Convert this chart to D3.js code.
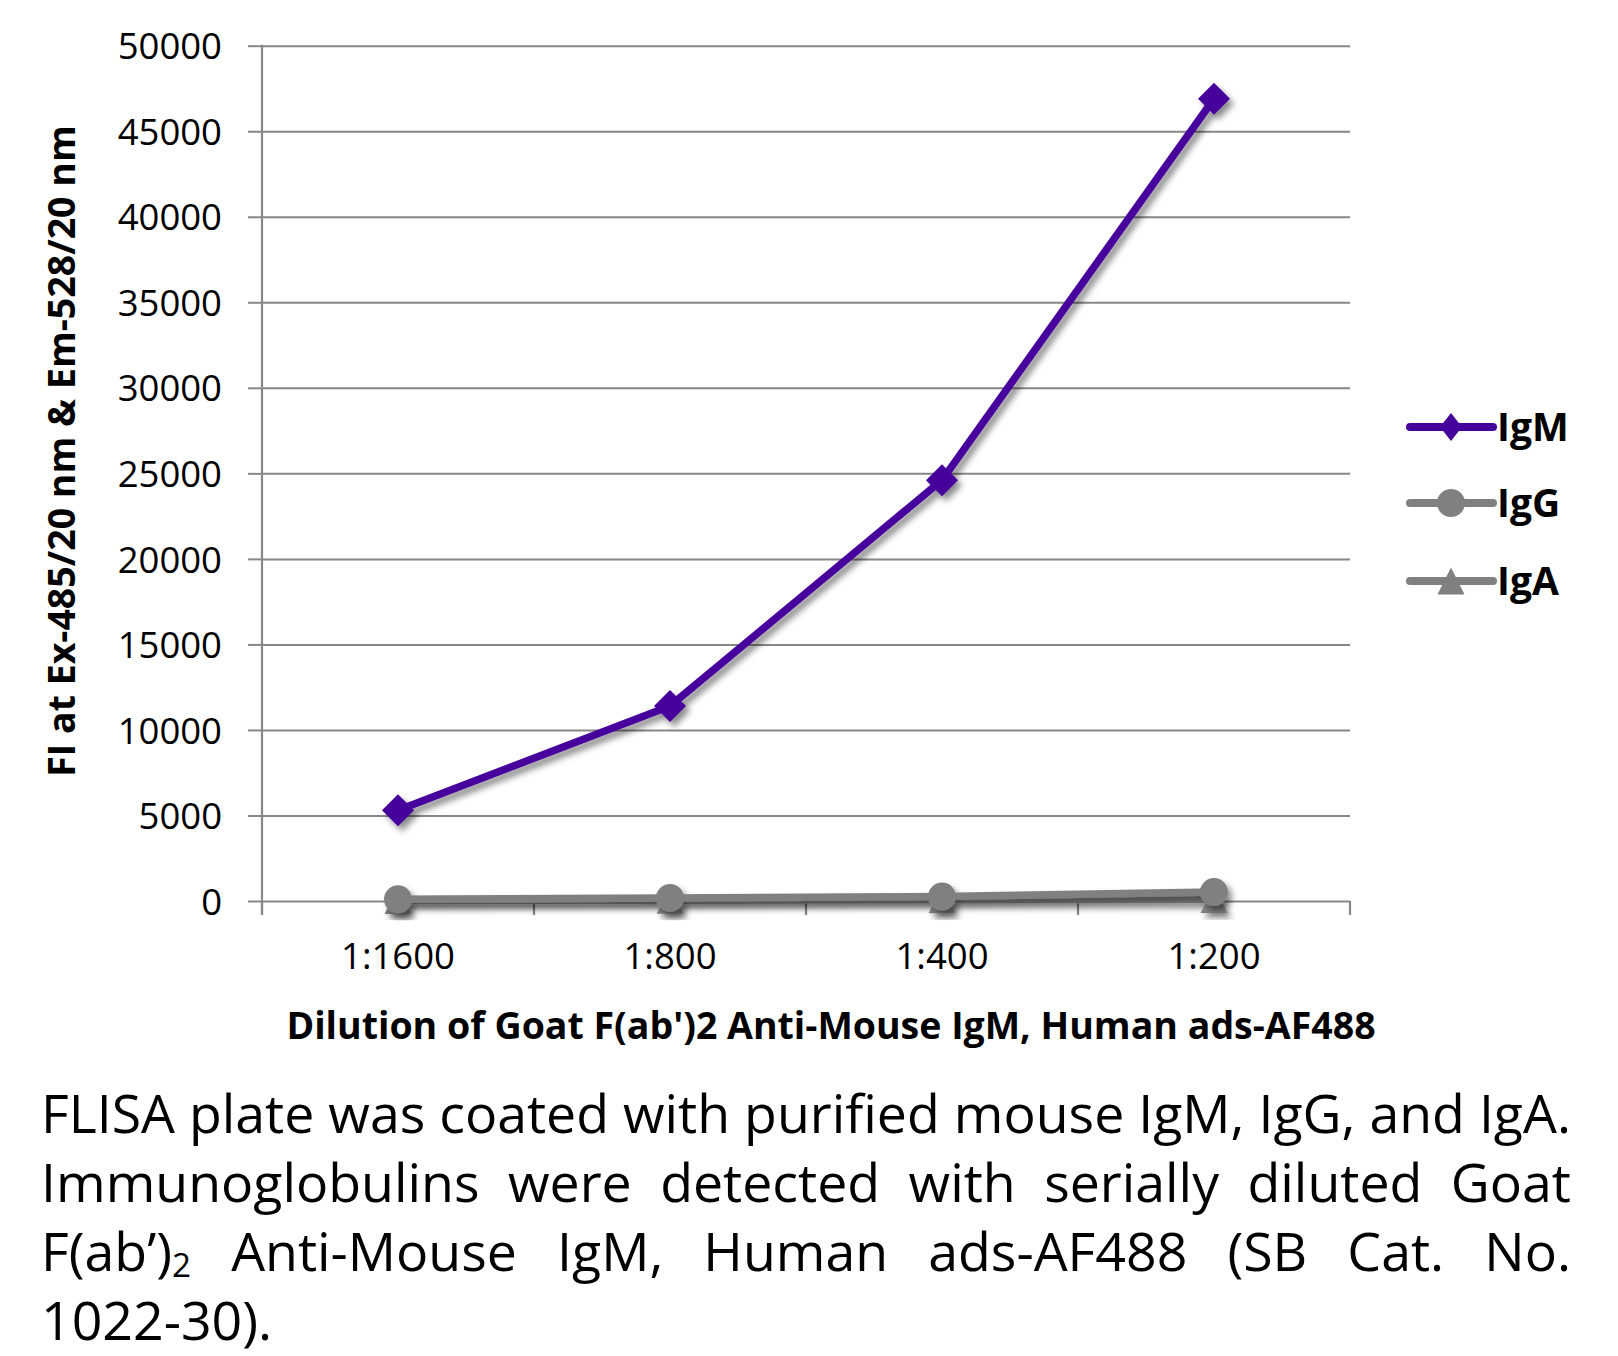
<!DOCTYPE html>
<html><head><meta charset="utf-8">
<script src="https://cdn.jsdelivr.net/npm/d3@7"></script>
<style>
html,body{margin:0;padding:0;background:#fff;}
svg{display:block;font-family:"Open Sans","Noto Sans",sans-serif;}
</style></head>
<body>
<svg id="chart" width="1618" height="1356"></svg>
<script>
const categories = ["1:1600", "1:800", "1:400", "1:200"];
const igM = [5300, 11400, 24600, 46900];
const igG = [100, 180, 260, 520];
const igA = [30, 50, 70, 90];
const yTicks = [0, 5000, 10000, 15000, 20000, 25000, 30000, 35000, 40000, 45000, 50000];
const seriesNames = ["IgM", "IgG", "IgA"];
const seriesColors = ["#46039b", "#808080", "#808080"];
const seriesShapes = ["diamond", "circle", "triangle"];
const captionLines = [
  "FLISA plate was coated with purified mouse IgM, IgG, and IgA.",
  "Immunoglobulins were detected with serially diluted Goat",
  "F(ab’)2 Anti-Mouse IgM, Human ads-AF488 (SB Cat. No.",
  "1022-30)."
];
const xTitle = "Dilution of Goat F(ab')2 Anti-Mouse IgM, Human ads-AF488";
const yTitle = "FI at Ex-485/20 nm & Em-528/20 nm";

const svg = d3.select("#chart");
const pLeft = 262, pRight = 1350, pTop = 45.7, pBottom = 901;
const grid = "#878787";

const defs = svg.append("defs");
const f = defs.append("filter").attr("id","shadow").attr("x","-20%").attr("y","-20%").attr("width","140%").attr("height","140%");
f.append("feDropShadow").attr("dx",4).attr("dy",5).attr("stdDeviation",3.2).attr("flood-color","#000").attr("flood-opacity",0.45);

const x = d3.scaleBand().domain(categories).range([pLeft, pRight]);
const y = d3.scaleLinear().domain([0, 50000]).range([pBottom, pTop]);
const cx = c => x(c) + x.bandwidth()/2;

// gridlines
const gAxis = svg.append("g").attr("transform", `translate(${pLeft},0)`)
  .call(d3.axisLeft(y).tickValues(yTicks).tickSize(-(pRight-pLeft)).tickFormat(""));
gAxis.select(".domain").remove();
gAxis.selectAll("line").attr("stroke", grid).attr("stroke-width", 2);

// left ticks + labels
const yAx = svg.append("g").attr("transform", `translate(${pLeft},0)`)
  .call(d3.axisLeft(y).tickValues(yTicks).tickSize(14).tickPadding(26).tickFormat(d3.format("d")));
yAx.select(".domain").remove();
yAx.selectAll("line").attr("stroke", grid).attr("stroke-width", 2);
yAx.selectAll("text").attr("font-size", 36.5).attr("fill", "#000").attr("font-family", "Open Sans").attr("dy", "0.36em");

// y axis line
svg.append("line").attr("x1", pLeft).attr("x2", pLeft).attr("y1", pTop - 1).attr("y2", pBottom + 14)
  .attr("stroke", grid).attr("stroke-width", 2.2);

// x axis boundary ticks
const edges = categories.map(c => x(c)).concat([x(categories[categories.length-1]) + x.bandwidth()]);
svg.append("g").selectAll("line").data(edges).join("line")
  .attr("x1", d => d).attr("x2", d => d).attr("y1", pBottom).attr("y2", pBottom + 14)
  .attr("stroke", grid).attr("stroke-width", 2.2);

// x labels
const xAx = svg.append("g").attr("transform", `translate(0,${pBottom})`)
  .call(d3.axisBottom(x).tickSize(0).tickPadding(42));
xAx.select(".domain").remove();
xAx.selectAll("text").attr("font-size", 36.5).attr("fill", "#000").attr("font-family", "Open Sans");

// titles
svg.append("text").attr("x", 831).attr("y", 1039).attr("text-anchor", "middle")
  .attr("font-size", 37.5).attr("font-weight", "bold").text(xTitle);
svg.append("text").attr("transform", "translate(75,451) rotate(-90)").attr("text-anchor", "middle")
  .attr("font-size", 37.5).attr("font-weight", "bold").text(yTitle);

function markerPath(shape) {
  if (shape === "diamond") return "M0,-16L16,0L0,16L-16,0Z";
  if (shape === "circle") return d3.symbol(d3.symbolCircle, 615)();
  return "M0,-13.5L13.5,13.5L-13.5,13.5Z";
}

// series (draw IgA, IgG, then IgM on top)
const seriesData = [igM, igG, igA];
const line = d3.line().x((d,i) => cx(categories[i])).y(d => y(d));
[2,1,0].forEach(s => {
  const g = svg.append("g").attr("filter", "url(#shadow)");
  g.append("path").datum(seriesData[s]).attr("d", line).attr("fill", "none")
    .attr("stroke", seriesColors[s]).attr("stroke-width", 7.5).attr("stroke-linejoin", "round");
  g.selectAll("path.m").data(seriesData[s]).join("path").attr("class","m")
    .attr("transform", (d,i) => `translate(${cx(categories[i])},${y(d)})`)
    .attr("d", markerPath(seriesShapes[s])).attr("fill", seriesColors[s]);
});

// legend
const legY = [427, 503, 581];
seriesNames.forEach((n, i) => {
  const g = svg.append("g").attr("transform", `translate(0,${legY[i]})`);
  g.append("line").attr("x1", 1410).attr("x2", 1493).attr("y1", 0).attr("y2", 0)
    .attr("stroke", seriesColors[i]).attr("stroke-width", 8).attr("stroke-linecap", "round");
  const m = seriesShapes[i] === "diamond" ? "M0,-14L11,0L0,14L-11,0Z" : markerPath(seriesShapes[i]);
  g.append("path").attr("transform", "translate(1451,0)").attr("d", m).attr("fill", seriesColors[i]);
  g.append("text").attr("x", 1497).attr("y", 0).attr("dy", "0.36em").attr("font-size", 39)
    .attr("font-weight", "bold").text(n);
});

// caption (justified)
const capLeft = 41, capRight = 1571, capBase = [1133, 1202, 1271, 1340];
const probe = svg.append("text").attr("font-size", 50).text(captionLines[0]);
const capSize = 50 * (capRight - capLeft) / probe.node().getComputedTextLength();
probe.remove();
captionLines.forEach((ln, li) => {
  const words = ln.split(" ");
  const nodes = words.map(w => {
    const t = svg.append("text").attr("font-size", capSize).attr("y", capBase[li]).attr("fill", "#000");
    if (w.includes("F(ab’)2")) {
      t.append("tspan").text("F(ab’)");
      t.append("tspan").attr("font-size", capSize * 0.62).attr("dy", capSize*0.12).text("2");
    } else t.text(w);
    return t;
  });
  const widths = nodes.map(n => n.node().getComputedTextLength());
  const total = d3.sum(widths);
  const justify = li < captionLines.length - 1 && words.length > 1;
  const gap = justify ? (capRight - capLeft - total) / (words.length - 1) : capSize * 0.26;
  let xx = capLeft;
  nodes.forEach((n, i) => { n.attr("x", xx); xx += widths[i] + gap; });
});
</script>
</body></html>
